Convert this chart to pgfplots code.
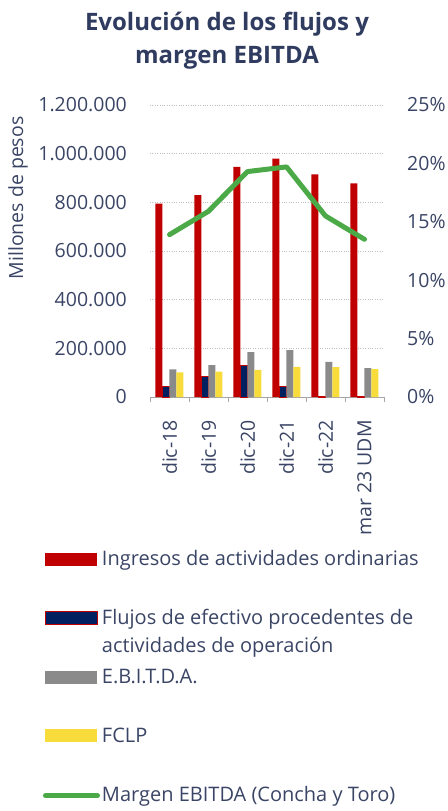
\documentclass[border=0pt]{standalone}
\usepackage{pgfplots}
\pgfplotsset{compat=1.18}
\usepackage{fontspec}
\setmainfont{Open Sans}
\definecolor{cred}{HTML}{C00000}
\definecolor{cnavy}{HTML}{002060}
\definecolor{cgrey}{HTML}{8A8A8A}
\definecolor{cyellow}{HTML}{F7DC3C}
\definecolor{cgreen}{HTML}{4BAA47}
\definecolor{ctext}{HTML}{3A4565}
\definecolor{ctitle}{HTML}{2F3B5F}
\definecolor{cgrid}{HTML}{BFBFBF}
\definecolor{caxis}{HTML}{A6A6A6}
\newcommand{\lfont}{\fontsize{19.5bp}{28bp}\selectfont}
\newcommand{\legfont}{\fontsize{20bp}{28bp}\selectfont}
\pgfplotsset{
  barleg/.style 2 args={legend image code/.code={\filldraw[fill=#1, draw=#2, line width=0.8bp] (0bp,-0.5bp) rectangle (52bp,12.5bp);}},
  lineleg/.style={legend image code/.code={\draw[##1] (0bp,6bp) -- (52bp,6bp);}},
}
\newcommand{\lst}{\rule[-6bp]{0pt}{20bp}}
\begin{document}
\begin{tikzpicture}
\useasboundingbox (-150bp,-414bp) rectangle (298bp,397bp);
\begin{axis}[
  at={(0,0)}, anchor=south west,
  scale only axis, width=234bp, height=292bp,
  xmin=-0.5, xmax=5.5, ymin=0, ymax=1200000,
  ybar=0pt, bar width=7bp,
  axis x line*=bottom, axis y line*=left,
  y axis line style={draw=none},
  x axis line style={draw=caxis, line width=0.8bp},
  xtick={0,...,5},
  xticklabels={dic-18,dic-19,dic-20,dic-21,dic-22,mar 23 UDM},
  minor xtick={-0.5,0.5,...,5.5},
  major tick length=0pt, minor tick length=5bp,
  tick align=outside,
  minor x tick style={draw=caxis, line width=0.8bp},
  major x tick style={draw=none},
  ytick={0,200000,...,1200000},
  ytick style={draw=none},
  ymajorgrids, grid style={dotted, draw=cgrid, line width=0.8bp},
  scaled y ticks=false,
  tick label style={font=\lfont, text=ctext},
  yticklabel style={/pgf/number format/.cd, fixed, 1000 sep={.}, assume math mode=true, /tikz/.cd, anchor=east, inner sep=0pt, xshift=-23bp},
  xticklabel style={rotate=90, anchor=east, inner sep=0pt, xshift=-23bp},
  legend style={at={(rel axis cs:-0.4573,-0.519)}, anchor=north west, draw=none, fill=none, inner sep=0pt, outer sep=0pt, font=\legfont, text=ctext, cells={anchor=base west}, row sep=39bp, column sep=0bp},
  /tikz/every even column/.append style={column sep=5bp},
]
\addplot[fill=cred, draw=none, barleg={cred}{none}] coordinates {(0,795000)(1,830000)(2,946000)(3,980000)(4,915000)(5,878000)};
\addlegendentry{\lst Ingresos de actividades ordinarias}
\addplot[fill=cnavy, draw=cred, line width=0.8bp, barleg={cnavy}{cred}] coordinates {(0,42000)(1,83000)(2,130000)(3,42000)(4,4000)(5,3000)};
\addlegendentry{\lst\smash{\parbox[t]{340bp}{\raggedright Flujos de efectivo procedentes de\\actividades de operación}}}
\addplot[fill=cgrey, draw=none, barleg={cgrey}{none}] coordinates {(0,114000)(1,131000)(2,184000)(3,193000)(4,144000)(5,119000)};
\addlegendentry{\lst E.B.I.T.D.A.}
\addplot[fill=cyellow, draw=none, barleg={cyellow}{none}] coordinates {(0,101000)(1,104000)(2,111000)(3,124000)(4,123000)(5,115000)};
\addlegendentry{\lst FCLP}
\addlegendimage{cgreen, line width=5bp, line cap=round, lineleg}
\addlegendentry{\lst Margen EBITDA (Concha y Toro)}
\end{axis}
\begin{axis}[
  at={(0,0)}, anchor=south west,
  scale only axis, width=234bp, height=292bp,
  xmin=-0.5, xmax=5.5, ymin=0, ymax=25,
  hide x axis,
  axis y line*=right,
  y axis line style={draw=none},
  ytick={0,5,...,25},
  ytick style={draw=none},
  major tick length=0pt,
  yticklabel={\pgfmathprintnumber[assume math mode=true]{\tick}\%},
  yticklabel style={font=\lfont, text=ctext, anchor=west, inner sep=0pt, xshift=23bp},
]
\addplot[cgreen, line width=5bp, line cap=round, line join=round] coordinates {(0,13.9)(1,15.9)(2,19.3)(3,19.7)(4,15.5)(5,13.5)};
\end{axis}
\node[anchor=base, font=\bfseries\fontsize{24bp}{33bp}\selectfont, text=ctitle] at (77bp,366bp) {Evolución de los flujos y};
\node[anchor=base, font=\bfseries\fontsize{24bp}{33bp}\selectfont, text=ctitle] at (77bp,333bp) {margen EBITDA};
\node[rotate=90, font=\lfont, text=ctext] at (-132bp,199bp) {Millones de pesos};
\end{tikzpicture}
\end{document}
